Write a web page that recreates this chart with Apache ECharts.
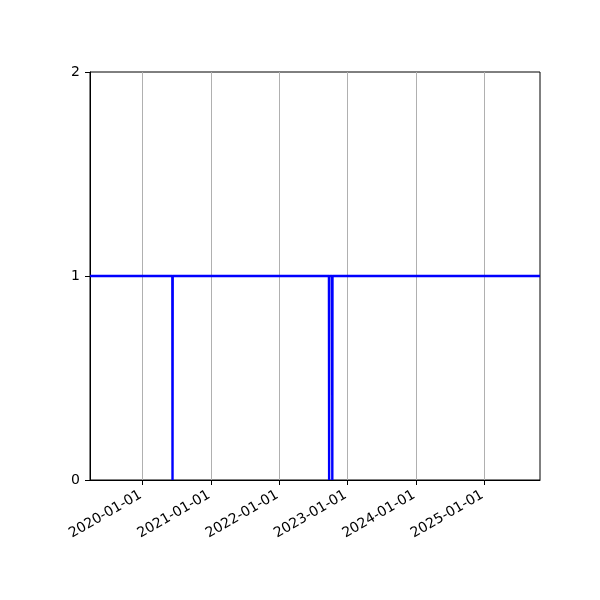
<!DOCTYPE html>
<html>
<head>
<meta charset="utf-8">
<script src="https://cdn.jsdelivr.net/npm/echarts@6/dist/echarts.min.js"></script>
<style>html,body{margin:0;padding:0;background:#fff}#c{width:600px;height:600px}</style>
</head>
<body>
<div id="c"></div>
<script>
const dates = ['2019-03-27','2020-06-09','2020-06-10','2020-06-11','2022-09-24','2022-09-25','2022-09-26','2022-10-11','2022-10-12','2022-10-13','2025-10-26'];
const values = [1,1,0,1,1,0,1,1,0,1,1];
const xTickLabels = ['2020-01-01','2021-01-01','2022-01-01','2023-01-01','2024-01-01','2025-01-01'];
const yTicks = [0,1,2];
const xMin = '2019-03-27', xMax = '2025-10-26';

const ts = s => { const [y,m,d] = s.split('-').map(Number); return Date.UTC(y, m-1, d); };
const tickVals = xTickLabels.map(ts);
const seriesData = dates.map((d,i) => [ts(d), values[i]]);
const pad = n => String(n).padStart(2,'0');
const fmt = v => { const d = new Date(v); return d.getUTCFullYear()+'-'+pad(d.getUTCMonth()+1)+'-'+pad(d.getUTCDate()); };

const chart = echarts.init(document.getElementById('c'), null, {renderer:'canvas'});
chart.setOption({
  animation: false,
  textStyle: {fontFamily: 'DejaVu Sans'},
  grid: {left: 90, right: 60, top: 72, bottom: 120, show: true, borderColor: '#000', borderWidth: 1, backgroundColor: 'transparent'},
  xAxis: {
    type: 'value', min: ts(xMin), max: ts(xMax), scale: true,
    axisLine: {lineStyle: {color: '#000', width: 1}},
    axisTick: {show: true, length: 5, lineStyle: {color: '#000'}, customValues: tickVals},
    axisLabel: {customValues: tickVals, formatter: v => fmt(v), rotate: 30, color: '#000', fontSize: 14, margin: 13, padding: [0, 2, 0, 0], fontFamily: 'DejaVu Sans'},
    splitLine: {show: true, lineStyle: {color: '#b0b0b0', width: 1}}
  },
  yAxis: {
    type: 'value', min: yTicks[0], max: yTicks[yTicks.length-1], interval: 1,
    axisLine: {show: true, lineStyle: {color: '#000', width: 1}},
    axisTick: {show: true, length: 5, lineStyle: {color: '#000'}},
    axisLabel: {color: '#000', fontSize: 14, margin: 10, fontFamily: 'DejaVu Sans'},
    splitLine: {show: false}
  },
  series: [{
    type: 'line', data: seriesData, showSymbol: false,
    lineStyle: {color: '#0000ff', width: 2.4}, itemStyle: {color: '#0000ff'}
  }]
});
</script>
</body>
</html>
